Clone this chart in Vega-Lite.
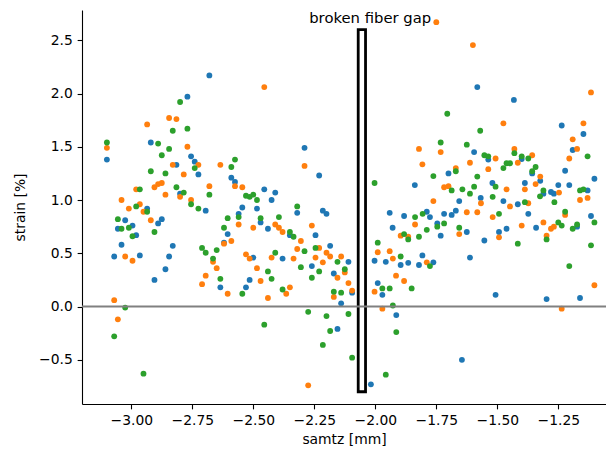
{
  "$schema": "https://vega.github.io/schema/vega-lite/v6.json",
  "width": 524,
  "height": 394,
  "autosize": {"type": "none"},
  "padding": {"left": 82, "top": 10, "right": 0, "bottom": 51},
  "background": "white",
  "config": {
    "view": {"stroke": null},
    "axis": {
      "grid": false,
      "domainColor": "#000000",
      "domainWidth": 1.1,
      "tickColor": "#000000",
      "tickWidth": 1.1,
      "tickSize": 4.86,
      "labelPadding": 4.86,
      "labelFont": "DejaVu Sans",
      "labelFontSize": 13.89,
      "labelColor": "#000000",
      "titleFont": "DejaVu Sans",
      "titleFontSize": 13.89,
      "titleFontWeight": "normal",
      "titleColor": "#000000"
    }
  },
  "datasets": {
    "pts": [
      {"x": -3.100, "y": 1.38, "s": "a"}, {"x": -3.070, "y": 0.47, "s": "a"}, {"x": -3.055, "y": 0.73, "s": "a"}, {"x": -3.040, "y": 0.58, "s": "a"}, {"x": -3.025, "y": 0.81, "s": "a"}, {"x": -2.995, "y": 0.76, "s": "a"}, {"x": -2.980, "y": 0.67, "s": "a"}, {"x": -2.965, "y": 0.48, "s": "a"}, {"x": -2.935, "y": 0.92, "s": "a"}, {"x": -2.920, "y": 1.54, "s": "a"}, {"x": -2.905, "y": 0.25, "s": "a"}, {"x": -2.890, "y": 0.78, "s": "a"}, {"x": -2.875, "y": 0.82, "s": "a"}, {"x": -2.860, "y": 0.35, "s": "a"}, {"x": -2.845, "y": 0.47, "s": "a"}, {"x": -2.830, "y": 0.57, "s": "a"}, {"x": -2.815, "y": 1.33, "s": "a"}, {"x": -2.800, "y": 1.06, "s": "a"}, {"x": -2.770, "y": 1.97, "s": "a"}, {"x": -2.755, "y": 1.41, "s": "a"}, {"x": -2.740, "y": 1.36, "s": "a"}, {"x": -2.725, "y": 1.24, "s": "a"}, {"x": -2.695, "y": 0.90, "s": "a"}, {"x": -2.680, "y": 2.17, "s": "a"}, {"x": -2.635, "y": 0.18, "s": "a"}, {"x": -2.620, "y": 0.60, "s": "a"}, {"x": -2.605, "y": 0.68, "s": "a"}, {"x": -2.590, "y": 1.21, "s": "a"}, {"x": -2.575, "y": 1.17, "s": "a"}, {"x": -2.560, "y": 0.87, "s": "a"}, {"x": -2.545, "y": 0.93, "s": "a"}, {"x": -2.530, "y": 0.18, "s": "a"}, {"x": -2.515, "y": 0.25, "s": "a"}, {"x": -2.500, "y": 0.46, "s": "a"}, {"x": -2.485, "y": 0.92, "s": "a"}, {"x": -2.470, "y": 0.79, "s": "a"}, {"x": -2.455, "y": 1.10, "s": "a"}, {"x": -2.440, "y": 0.73, "s": "a"}, {"x": -2.425, "y": 1.00, "s": "a"}, {"x": -2.410, "y": 1.07, "s": "a"}, {"x": -2.380, "y": 0.45, "s": "a"}, {"x": -2.350, "y": 0.67, "s": "a"}, {"x": -2.320, "y": 0.88, "s": "a"}, {"x": -2.290, "y": 1.49, "s": "a"}, {"x": -2.260, "y": 0.38, "s": "a"}, {"x": -2.245, "y": 0.67, "s": "a"}, {"x": -2.230, "y": 1.23, "s": "a"}, {"x": -2.215, "y": 0.90, "s": "a"}, {"x": -2.200, "y": 0.87, "s": "a"}, {"x": -2.185, "y": 0.57, "s": "a"}, {"x": -2.170, "y": 0.31, "s": "a"}, {"x": -2.155, "y": -0.21, "s": "a"}, {"x": -2.140, "y": 0.03, "s": "a"}, {"x": -2.110, "y": 0.42, "s": "a"}, {"x": -2.095, "y": 0.13, "s": "a"},
      {"x": -2.018, "y": -0.73, "s": "a"}, {"x": -2.003, "y": 0.43, "s": "a"}, {"x": -1.990, "y": 0.22, "s": "a"}, {"x": -1.971, "y": 0.11, "s": "a"}, {"x": -1.957, "y": 0.42, "s": "a"}, {"x": -1.941, "y": 0.88, "s": "a"}, {"x": -1.929, "y": 0.74, "s": "a"}, {"x": -1.914, "y": -0.08, "s": "a"}, {"x": -1.896, "y": 0.39, "s": "a"}, {"x": -1.882, "y": 0.85, "s": "a"}, {"x": -1.865, "y": 0.41, "s": "a"}, {"x": -1.838, "y": 1.14, "s": "a"}, {"x": -1.821, "y": 0.39, "s": "a"}, {"x": -1.807, "y": 0.48, "s": "a"}, {"x": -1.789, "y": 0.89, "s": "a"}, {"x": -1.776, "y": 0.84, "s": "a"}, {"x": -1.762, "y": 0.415, "s": "a"}, {"x": -1.746, "y": 0.78, "s": "a"}, {"x": -1.732, "y": 0.665, "s": "a"}, {"x": -1.718, "y": 0.87, "s": "a"}, {"x": -1.700, "y": 1.25, "s": "a"}, {"x": -1.687, "y": 0.86, "s": "a"}, {"x": -1.670, "y": 0.90, "s": "a"}, {"x": -1.656, "y": 0.99, "s": "a"}, {"x": -1.645, "y": -0.50, "s": "a"}, {"x": -1.625, "y": 0.70, "s": "a"}, {"x": -1.612, "y": 0.46, "s": "a"}, {"x": -1.595, "y": 1.45, "s": "a"}, {"x": -1.582, "y": 2.06, "s": "a"}, {"x": -1.568, "y": 1.02, "s": "a"}, {"x": -1.553, "y": 0.62, "s": "a"}, {"x": -1.537, "y": 1.38, "s": "a"}, {"x": -1.520, "y": 1.16, "s": "a"}, {"x": -1.507, "y": 0.11, "s": "a"}, {"x": -1.493, "y": 0.70, "s": "a"}, {"x": -1.475, "y": 0.99, "s": "a"}, {"x": -1.462, "y": 0.73, "s": "a"}, {"x": -1.432, "y": 1.94, "s": "a"}, {"x": -1.416, "y": 0.96, "s": "a"}, {"x": -1.400, "y": 1.385, "s": "a"}, {"x": -1.387, "y": 1.16, "s": "a"}, {"x": -1.373, "y": 0.87, "s": "a"}, {"x": -1.357, "y": 1.25, "s": "a"}, {"x": -1.341, "y": 0.74, "s": "a"}, {"x": -1.324, "y": 1.18, "s": "a"}, {"x": -1.311, "y": 1.06, "s": "a"}, {"x": -1.298, "y": 0.07, "s": "a"}, {"x": -1.280, "y": 1.075, "s": "a"}, {"x": -1.268, "y": 1.06, "s": "a"}, {"x": -1.250, "y": 1.14, "s": "a"}, {"x": -1.236, "y": 1.70, "s": "a"}, {"x": -1.222, "y": 1.275, "s": "a"}, {"x": -1.205, "y": 1.14, "s": "a"}, {"x": -1.191, "y": 1.47, "s": "a"}, {"x": -1.173, "y": 0.75, "s": "a"}, {"x": -1.161, "y": 0.08, "s": "a"}, {"x": -1.147, "y": 1.62, "s": "a"}, {"x": -1.130, "y": 1.09, "s": "a"}, {"x": -1.116, "y": 0.85, "s": "a"}, {"x": -1.102, "y": 1.20, "s": "a"},
      {"x": -3.100, "y": 1.49, "s": "b"}, {"x": -3.070, "y": 0.06, "s": "b"}, {"x": -3.055, "y": -0.12, "s": "b"}, {"x": -3.040, "y": 1.00, "s": "b"}, {"x": -3.025, "y": 0.47, "s": "b"}, {"x": -3.010, "y": 0.92, "s": "b"}, {"x": -2.995, "y": 0.43, "s": "b"}, {"x": -2.980, "y": 1.10, "s": "b"}, {"x": -2.965, "y": 0.96, "s": "b"}, {"x": -2.950, "y": 0.89, "s": "b"}, {"x": -2.935, "y": 1.71, "s": "b"}, {"x": -2.920, "y": 0.81, "s": "b"}, {"x": -2.905, "y": 1.12, "s": "b"}, {"x": -2.890, "y": 1.15, "s": "b"}, {"x": -2.875, "y": 1.16, "s": "b"}, {"x": -2.860, "y": 1.05, "s": "b"}, {"x": -2.845, "y": 1.77, "s": "b"}, {"x": -2.830, "y": 1.33, "s": "b"}, {"x": -2.815, "y": 1.76, "s": "b"}, {"x": -2.800, "y": 1.03, "s": "b"}, {"x": -2.785, "y": 1.24, "s": "b"}, {"x": -2.770, "y": 1.50, "s": "b"}, {"x": -2.755, "y": 1.00, "s": "b"}, {"x": -2.725, "y": 1.33, "s": "b"}, {"x": -2.710, "y": 0.21, "s": "b"}, {"x": -2.695, "y": 0.29, "s": "b"}, {"x": -2.680, "y": 1.13, "s": "b"}, {"x": -2.665, "y": 0.42, "s": "b"}, {"x": -2.650, "y": 0.36, "s": "b"}, {"x": -2.635, "y": 1.33, "s": "b"}, {"x": -2.620, "y": 0.59, "s": "b"}, {"x": -2.605, "y": 0.12, "s": "b"}, {"x": -2.590, "y": 0.615, "s": "b"}, {"x": -2.575, "y": 1.13, "s": "b"}, {"x": -2.560, "y": 0.77, "s": "b"}, {"x": -2.545, "y": 1.12, "s": "b"}, {"x": -2.530, "y": 0.49, "s": "b"}, {"x": -2.515, "y": 0.45, "s": "b"}, {"x": -2.500, "y": 0.74, "s": "b"}, {"x": -2.485, "y": 0.36, "s": "b"}, {"x": -2.470, "y": 0.24, "s": "b"}, {"x": -2.455, "y": 2.06, "s": "b"}, {"x": -2.440, "y": 0.08, "s": "b"}, {"x": -2.425, "y": 0.46, "s": "b"}, {"x": -2.410, "y": 0.77, "s": "b"}, {"x": -2.395, "y": 0.74, "s": "b"}, {"x": -2.380, "y": 0.70, "s": "b"}, {"x": -2.365, "y": 0.12, "s": "b"}, {"x": -2.350, "y": 0.18, "s": "b"}, {"x": -2.335, "y": 0.45, "s": "b"}, {"x": -2.320, "y": 0.54, "s": "b"}, {"x": -2.305, "y": 0.615, "s": "b"}, {"x": -2.290, "y": 1.32, "s": "b"}, {"x": -2.275, "y": -0.74, "s": "b"}, {"x": -2.260, "y": 0.76, "s": "b"}, {"x": -2.245, "y": 0.46, "s": "b"}, {"x": -2.230, "y": 0.55, "s": "b"}, {"x": -2.215, "y": 0.415, "s": "b"}, {"x": -2.200, "y": 0.505, "s": "b"}, {"x": -2.185, "y": 0.47, "s": "b"}, {"x": -2.170, "y": 0.09, "s": "b"}, {"x": -2.155, "y": 0.27, "s": "b"}, {"x": -2.140, "y": 0.47, "s": "b"}, {"x": -2.125, "y": 0.32, "s": "b"}, {"x": -2.110, "y": 0.22, "s": "b"}, {"x": -2.095, "y": 0.15, "s": "b"},
      {"x": -2.003, "y": 0.14, "s": "b"}, {"x": -1.990, "y": 0.51, "s": "b"}, {"x": -1.971, "y": -0.02, "s": "b"}, {"x": -1.941, "y": 0.52, "s": "b"}, {"x": -1.928, "y": 0.45, "s": "b"}, {"x": -1.915, "y": 0.29, "s": "b"}, {"x": -1.896, "y": 0.665, "s": "b"}, {"x": -1.882, "y": 0.24, "s": "b"}, {"x": -1.865, "y": 0.655, "s": "b"}, {"x": -1.837, "y": 0.77, "s": "b"}, {"x": -1.821, "y": 1.48, "s": "b"}, {"x": -1.807, "y": 1.335, "s": "b"}, {"x": -1.789, "y": 0.415, "s": "b"}, {"x": -1.762, "y": 0.99, "s": "b"}, {"x": -1.750, "y": 2.67, "s": "b"}, {"x": -1.732, "y": 1.45, "s": "b"}, {"x": -1.718, "y": 1.12, "s": "b"}, {"x": -1.700, "y": 1.13, "s": "b"}, {"x": -1.670, "y": 1.30, "s": "b"}, {"x": -1.656, "y": 0.68, "s": "b"}, {"x": -1.625, "y": 0.885, "s": "b"}, {"x": -1.612, "y": 1.35, "s": "b"}, {"x": -1.600, "y": 2.455, "s": "b"}, {"x": -1.582, "y": 0.885, "s": "b"}, {"x": -1.567, "y": 0.97, "s": "b"}, {"x": -1.537, "y": 1.29, "s": "b"}, {"x": -1.519, "y": 0.84, "s": "b"}, {"x": -1.507, "y": 1.39, "s": "b"}, {"x": -1.493, "y": 0.65, "s": "b"}, {"x": -1.475, "y": 1.72, "s": "b"}, {"x": -1.462, "y": 1.10, "s": "b"}, {"x": -1.448, "y": 0.94, "s": "b"}, {"x": -1.430, "y": 1.48, "s": "b"}, {"x": -1.416, "y": 1.35, "s": "b"}, {"x": -1.400, "y": 0.76, "s": "b"}, {"x": -1.387, "y": 1.10, "s": "b"}, {"x": -1.373, "y": 0.97, "s": "b"}, {"x": -1.357, "y": 1.42, "s": "b"}, {"x": -1.343, "y": 1.15, "s": "b"}, {"x": -1.324, "y": 1.22, "s": "b"}, {"x": -1.311, "y": 0.79, "s": "b"}, {"x": -1.298, "y": 0.665, "s": "b"}, {"x": -1.280, "y": 0.73, "s": "b"}, {"x": -1.268, "y": 0.75, "s": "b"}, {"x": -1.247, "y": 1.07, "s": "b"}, {"x": -1.236, "y": -0.02, "s": "b"}, {"x": -1.222, "y": 0.86, "s": "b"}, {"x": -1.205, "y": 1.39, "s": "b"}, {"x": -1.191, "y": 1.57, "s": "b"}, {"x": -1.173, "y": 1.48, "s": "b"}, {"x": -1.161, "y": 1.00, "s": "b"}, {"x": -1.147, "y": 1.72, "s": "b"}, {"x": -1.130, "y": 1.02, "s": "b"}, {"x": -1.116, "y": 2.01, "s": "b"}, {"x": -1.102, "y": 0.20, "s": "b"},
      {"x": -3.100, "y": 1.54, "s": "c"}, {"x": -3.070, "y": -0.28, "s": "c"}, {"x": -3.055, "y": 0.82, "s": "c"}, {"x": -3.040, "y": 0.73, "s": "c"}, {"x": -3.025, "y": -0.01, "s": "c"}, {"x": -3.010, "y": 0.74, "s": "c"}, {"x": -2.995, "y": 0.66, "s": "c"}, {"x": -2.980, "y": 0.94, "s": "c"}, {"x": -2.965, "y": 1.10, "s": "c"}, {"x": -2.950, "y": -0.63, "s": "c"}, {"x": -2.935, "y": 0.89, "s": "c"}, {"x": -2.920, "y": 1.27, "s": "c"}, {"x": -2.905, "y": 0.70, "s": "c"}, {"x": -2.890, "y": 1.53, "s": "c"}, {"x": -2.875, "y": 1.42, "s": "c"}, {"x": -2.860, "y": 1.25, "s": "c"}, {"x": -2.845, "y": 1.48, "s": "c"}, {"x": -2.830, "y": 1.65, "s": "c"}, {"x": -2.815, "y": 1.12, "s": "c"}, {"x": -2.800, "y": 1.92, "s": "c"}, {"x": -2.785, "y": 1.07, "s": "c"}, {"x": -2.770, "y": 1.67, "s": "c"}, {"x": -2.755, "y": 0.96, "s": "c"}, {"x": -2.740, "y": 1.30, "s": "c"}, {"x": -2.725, "y": 0.92, "s": "c"}, {"x": -2.710, "y": 0.55, "s": "c"}, {"x": -2.695, "y": 0.505, "s": "c"}, {"x": -2.680, "y": 1.05, "s": "c"}, {"x": -2.665, "y": 0.45, "s": "c"}, {"x": -2.650, "y": 0.53, "s": "c"}, {"x": -2.635, "y": 0.26, "s": "c"}, {"x": -2.620, "y": 0.74, "s": "c"}, {"x": -2.605, "y": 0.83, "s": "c"}, {"x": -2.590, "y": 1.31, "s": "c"}, {"x": -2.575, "y": 1.38, "s": "c"}, {"x": -2.560, "y": 0.84, "s": "c"}, {"x": -2.545, "y": 0.12, "s": "c"}, {"x": -2.530, "y": 1.04, "s": "c"}, {"x": -2.515, "y": 1.03, "s": "c"}, {"x": -2.500, "y": 1.05, "s": "c"}, {"x": -2.485, "y": 1.00, "s": "c"}, {"x": -2.470, "y": 0.83, "s": "c"}, {"x": -2.455, "y": -0.17, "s": "c"}, {"x": -2.440, "y": 0.33, "s": "c"}, {"x": -2.425, "y": 0.26, "s": "c"}, {"x": -2.410, "y": 0.505, "s": "c"}, {"x": -2.395, "y": 0.84, "s": "c"}, {"x": -2.380, "y": 0.16, "s": "c"}, {"x": -2.350, "y": 0.70, "s": "c"}, {"x": -2.335, "y": 0.655, "s": "c"}, {"x": -2.320, "y": 0.94, "s": "c"}, {"x": -2.305, "y": 0.37, "s": "c"}, {"x": -2.290, "y": 0.52, "s": "c"}, {"x": -2.275, "y": -0.05, "s": "c"}, {"x": -2.260, "y": 0.27, "s": "c"}, {"x": -2.245, "y": 0.55, "s": "c"}, {"x": -2.230, "y": 0.33, "s": "c"}, {"x": -2.215, "y": -0.36, "s": "c"}, {"x": -2.200, "y": -0.09, "s": "c"}, {"x": -2.185, "y": -0.23, "s": "c"}, {"x": -2.170, "y": 0.14, "s": "c"}, {"x": -2.155, "y": 0.42, "s": "c"}, {"x": -2.140, "y": 0.13, "s": "c"}, {"x": -2.125, "y": 0.35, "s": "c"}, {"x": -2.110, "y": -0.07, "s": "c"}, {"x": -2.095, "y": -0.48, "s": "c"},
      {"x": -2.003, "y": 1.16, "s": "c"}, {"x": -1.990, "y": 0.60, "s": "c"}, {"x": -1.971, "y": 0.17, "s": "c"}, {"x": -1.957, "y": -0.64, "s": "c"}, {"x": -1.941, "y": 0.17, "s": "c"}, {"x": -1.928, "y": 0.01, "s": "c"}, {"x": -1.914, "y": -0.24, "s": "c"}, {"x": -1.896, "y": 0.47, "s": "c"}, {"x": -1.882, "y": 0.68, "s": "c"}, {"x": -1.865, "y": 0.63, "s": "c"}, {"x": -1.851, "y": 0.17, "s": "c"}, {"x": -1.837, "y": 0.84, "s": "c"}, {"x": -1.821, "y": 0.655, "s": "c"}, {"x": -1.806, "y": 0.87, "s": "c"}, {"x": -1.789, "y": 0.72, "s": "c"}, {"x": -1.776, "y": 0.38, "s": "c"}, {"x": -1.762, "y": 1.225, "s": "c"}, {"x": -1.746, "y": 0.75, "s": "c"}, {"x": -1.732, "y": 1.54, "s": "c"}, {"x": -1.718, "y": 0.78, "s": "c"}, {"x": -1.705, "y": 1.81, "s": "c"}, {"x": -1.687, "y": 1.09, "s": "c"}, {"x": -1.670, "y": 1.27, "s": "c"}, {"x": -1.656, "y": 0.74, "s": "c"}, {"x": -1.643, "y": 1.10, "s": "c"}, {"x": -1.625, "y": 1.52, "s": "c"}, {"x": -1.612, "y": 1.06, "s": "c"}, {"x": -1.595, "y": 1.125, "s": "c"}, {"x": -1.582, "y": 1.22, "s": "c"}, {"x": -1.570, "y": 1.65, "s": "c"}, {"x": -1.553, "y": 1.42, "s": "c"}, {"x": -1.537, "y": 1.41, "s": "c"}, {"x": -1.519, "y": 1.03, "s": "c"}, {"x": -1.507, "y": 1.125, "s": "c"}, {"x": -1.493, "y": 0.87, "s": "c"}, {"x": -1.475, "y": 1.30, "s": "c"}, {"x": -1.462, "y": 1.345, "s": "c"}, {"x": -1.448, "y": 1.345, "s": "c"}, {"x": -1.430, "y": 1.44, "s": "c"}, {"x": -1.416, "y": 0.59, "s": "c"}, {"x": -1.400, "y": 1.41, "s": "c"}, {"x": -1.387, "y": 0.98, "s": "c"}, {"x": -1.373, "y": 1.39, "s": "c"}, {"x": -1.357, "y": 1.27, "s": "c"}, {"x": -1.343, "y": 1.31, "s": "c"}, {"x": -1.325, "y": 1.035, "s": "c"}, {"x": -1.311, "y": 1.09, "s": "c"}, {"x": -1.298, "y": 0.63, "s": "c"}, {"x": -1.266, "y": 0.98, "s": "c"}, {"x": -1.250, "y": 0.79, "s": "c"}, {"x": -1.236, "y": 0.76, "s": "c"}, {"x": -1.222, "y": 0.89, "s": "c"}, {"x": -1.205, "y": 0.38, "s": "c"}, {"x": -1.191, "y": 0.73, "s": "c"}, {"x": -1.173, "y": 0.77, "s": "c"}, {"x": -1.161, "y": 1.09, "s": "c"}, {"x": -1.147, "y": 1.10, "s": "c"}, {"x": -1.130, "y": 1.41, "s": "c"}, {"x": -1.116, "y": 0.575, "s": "c"}, {"x": -1.102, "y": 0.79, "s": "c"}
    ]
  },
  "layer": [
    {
      "data": {"name": "pts"},
      "mark": {"type": "point", "filled": true, "opacity": 1, "size": 34, "shape": "circle"},
      "encoding": {
        "x": {"field": "x", "type": "quantitative", "title": "samtz [mm]",
              "scale": {"domain": [-3.202, -1.0545], "nice": false, "zero": false},
              "axis": {"values": [-3.0, -2.75, -2.5, -2.25, -2.0, -1.75, -1.5, -1.25], "format": ".2f", "titlePadding": 5}},
        "y": {"field": "y", "type": "quantitative", "title": "strain [%]",
              "scale": {"domain": [-0.915, 2.784], "nice": false, "zero": false},
              "axis": {"values": [-0.5, 0, 0.5, 1.0, 1.5, 2.0, 2.5], "format": ".1f", "titlePadding": 11}},
        "color": {"field": "s", "type": "nominal", "legend": null,
                  "scale": {"domain": ["a", "b", "c"], "range": ["#1f77b4", "#ff7f0e", "#2ca02c"]}}
      }
    },
    {
      "data": {"values": [{"x": -2.07, "x2": -2.04, "y": -0.8, "y2": 2.6}]},
      "mark": {"type": "rect", "fill": null, "stroke": "#000000", "strokeWidth": 2.8},
      "encoding": {
        "x": {"field": "x", "type": "quantitative", "title": "samtz [mm]"},
        "x2": {"field": "x2"},
        "y": {"field": "y", "type": "quantitative", "title": "strain [%]"},
        "y2": {"field": "y2"}
      }
    },
    {
      "data": {"values": [{"y": 0}]},
      "mark": {"type": "rule", "color": "#808080", "strokeWidth": 2},
      "encoding": {
        "y": {"field": "y", "type": "quantitative", "title": "strain [%]"}
      }
    },
    {
      "data": {"values": [{"x": -2.021, "y": 2.66, "t": "broken fiber gap"}]},
      "mark": {"type": "text", "align": "center", "baseline": "alphabetic", "font": "DejaVu Sans", "fontSize": 14.8, "color": "#000000"},
      "encoding": {
        "x": {"field": "x", "type": "quantitative", "title": "samtz [mm]"},
        "y": {"field": "y", "type": "quantitative", "title": "strain [%]"},
        "text": {"field": "t"}
      }
    }
  ]
}
